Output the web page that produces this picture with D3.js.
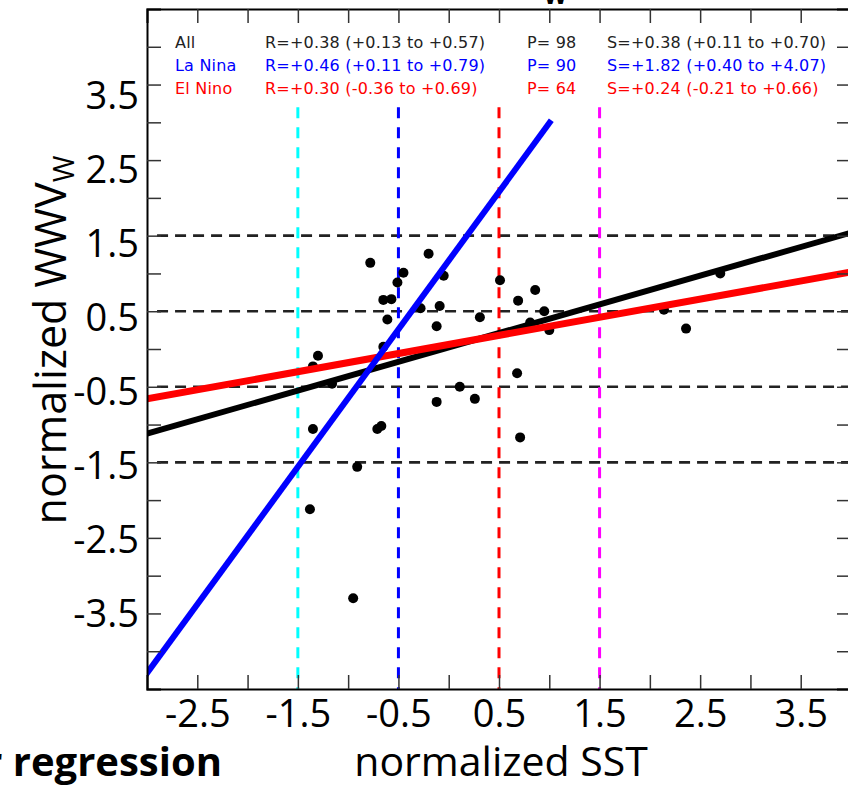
<!DOCTYPE html>
<html>
<head>
<meta charset="utf-8">
<script src="https://cdn.jsdelivr.net/npm/d3@7"></script>
<style>
  body { margin: 0; background: #fff; overflow: hidden; }
  svg { display: block; }
</style>
</head>
<body>
<svg id="chart"></svg>
<script>
var width = 848,
    height = 787;

// scatter points (normalized SST, normalized WWV_W)
const sstValues = [-0.78, -0.20, -0.45, -0.51, -0.05, 0.51, -0.65, -0.57, -0.28, -0.09,
                   -0.61, -0.12, 0.31, -0.65, -1.30, -1.35, -1.16, 0.11, -0.12, 0.26,
                   -1.35, -0.71, -0.67, -0.91, -1.38, -0.95, 0.86, 0.69, 0.95, 0.81,
                   1.00, 2.70, 2.14, 2.36, 0.68, 0.71];
const wwvValues = [1.14, 1.26, 1.01, 0.88, 0.97, 0.91, 0.65, 0.66, 0.54, 0.57,
                   0.39, 0.30, 0.42, 0.03, -0.09, -0.23, -0.46, -0.50, -0.70, -0.66,
                   -1.06, -1.06, -1.02, -1.56, -2.12, -3.30, 0.78, 0.64, 0.50, 0.35,
                   0.25, 1.00, 0.52, 0.27, -0.32, -1.17];

// regression fits
const fitNames = ["All", "El Nino", "La Nina"];
const fitSlopes = [0.38, 0.24, 1.82];
const fitIntercepts = [0.02, 0.06, 1.17];
const fitStart = [-3, -3, -3.3];
const fitEnd = [4, 4, 1.02];

// legend table
const legendNames = ["All", "La Nina", "El Nino"];
const legendR = ["R=+0.38 (+0.13 to +0.57)", "R=+0.46 (+0.11 to +0.79)", "R=+0.30 (-0.36 to +0.69)"];
const legendP = ["P= 98", "P= 90", "P= 64"];
const legendS = ["S=+0.38 (+0.11 to +0.70)", "S=+1.82 (+0.40 to +4.07)", "S=+0.24 (-0.21 to +0.66)"];

// threshold lines
const sstThresholds = [-1.5, -0.5, 0.5, 1.5];
const wwvThresholds = [1.5, 0.5, -0.5, -1.5];

// axis ticks
const xTickValues = [-2.5, -2, -1.5, -1, -0.5, 0, 0.5, 1, 1.5, 2, 2.5, 3, 3.5];
const yTickValues = [-4, -3.5, -3, -2.5, -2, -1.5, -1, -0.5, 0, 0.5, 1, 1.5, 2, 2.5, 3, 3.5, 4];
const xTickLabels = ["-2.5", "-1.5", "-0.5", "0.5", "1.5", "2.5", "3.5"];
const yTickLabels = ["3.5", "2.5", "1.5", "0.5", "-0.5", "-1.5", "-2.5", "-3.5"];

const colors = {
    "All": "#000000",
    "La Nina": "#0000ff",
    "El Nino": "#ff0000"
};
const legendText = {"All": "#222222", "La Nina": "#0000ff", "El Nino": "#ff0000"};
const sstColors = ["#00ffff", "#0000ff", "#ff0000", "#ff00ff"];

var margin = {left: 147, top: 9, right: -3, bottom: 98};
var plotW = width - margin.left - margin.right,
    plotH = height - margin.top - margin.bottom;

var x = d3.scaleLinear().domain([-3, 4]).range([0, plotW]);
var y = d3.scaleLinear().domain([-4.5, 4.5]).range([plotH, 0]);

const svg = d3.select("#chart")
    .attr("width", width)
    .attr("height", height);

const defs = svg.append("defs");
defs.append("clipPath").attr("id", "plotclip")
    .append("rect").attr("width", plotW).attr("height", plotH);
defs.append("clipPath").attr("id", "pageclip")
    .append("rect").attr("width", width).attr("height", height);

const g = svg.append("g").attr("transform", "translate(" + margin.left + "," + margin.top + ")");
const plot = g.append("g").attr("clip-path", "url(#plotclip)");

// horizontal dashed lines
plot.selectAll(".hline")
    .data(wwvThresholds)
    .enter().append("line")
    .attr("class", "hline")
    .attr("x1", x(-2.9)).attr("x2", x(4))
    .attr("y1", d => y(d)).attr("y2", d => y(d))
    .attr("stroke", "#222")
    .attr("stroke-width", 2.6)
    .attr("stroke-dasharray", "11,7");

// vertical dashed lines
plot.selectAll(".vline")
    .data(sstThresholds)
    .enter().append("line")
    .attr("class", "vline")
    .attr("x1", d => x(d)).attr("x2", d => x(d))
    .attr("y1", y(3.2)).attr("y2", y(-4.5))
    .attr("stroke", (d, i) => sstColors[i])
    .attr("stroke-width", 3)
    .attr("stroke-dasharray", "11,9");

// points
plot.selectAll("circle")
    .data(sstValues)
    .enter().append("circle")
    .attr("cx", d => x(d))
    .attr("cy", (d, i) => y(wwvValues[i]))
    .attr("r", 5)
    .attr("fill", "#000");

// regression lines
var line = d3.line().x(d => x(d[0])).y(d => y(d[1]));
fitNames.forEach((name, i) => {
    var pts = [fitStart[i], fitEnd[i]].map(v => [v, fitIntercepts[i] + fitSlopes[i] * v]);
    plot.append("path")
        .attr("d", line(pts))
        .attr("fill", "none")
        .attr("stroke", colors[name])
        .attr("stroke-width", name == "El Nino" ? 7 : 6);
});

// axes with inward ticks
var xAxis = g.append("g").attr("transform", "translate(0," + plotH + ")")
    .call(d3.axisBottom(x).tickValues(xTickValues).tickSize(-14).tickPadding(11)
        .tickFormat(d => xTickLabels.includes(d.toFixed(1)) ? d.toFixed(1) : ""));
var xTop = g.append("g")
    .call(d3.axisTop(x).tickValues(xTickValues).tickSize(-14).tickFormat(""));
var yAxis = g.append("g")
    .call(d3.axisLeft(y).tickValues(yTickValues).tickSize(-14).tickFormat(""));
var yRight = g.append("g").attr("transform", "translate(" + plotW + ",0)")
    .call(d3.axisRight(y).tickValues(yTickValues).tickSize(-14).tickFormat(""));

[xAxis, xTop, yAxis, yRight].forEach(a => {
    a.select(".domain").attr("stroke", "#000").attr("stroke-width", 2);
    a.selectAll(".tick line").attr("stroke", "#333").attr("stroke-width", 1.5);
    // drop the empty labels of the minor ticks
    a.selectAll(".tick text").filter(function () { return this.textContent === ""; }).remove();
});
xAxis.selectAll(".tick text")
    .attr("fill", "#000")
    .style("font-family", "'Open Sans', sans-serif")
    .style("font-size", "38px");

// y labels sit as separate text boxes, slightly tighter than the ticks
var yLabelPos = d3.scaleLinear().domain([3.5, -3.5]).range([95, 613]);
svg.append("g").selectAll("text")
    .data(yTickLabels)
    .enter().append("text")
    .attr("x", 139)
    .attr("y", d => yLabelPos(+d))
    .attr("dy", "0.36em")
    .attr("text-anchor", "end")
    .style("font-family", "'Open Sans', sans-serif")
    .style("font-size", "38px")
    .text(d => d);

// legend
var legend = g.append("g")
    .style("font-family", "'DejaVu Sans', sans-serif")
    .style("font-size", "16px")
    .style("letter-spacing", "0.2px");
legendNames.forEach((name, i) => {
    var ty = 39 + i * 23;
    var row = legend.append("g").attr("fill", legendText[name]);
    row.append("text").attr("x", 175 - margin.left).attr("y", ty).text(name);
    row.append("text").attr("x", 265 - margin.left).attr("y", ty).text(legendR[i]);
    row.append("text").attr("x", 527 - margin.left).attr("y", ty).text(legendP[i]);
    row.append("text").attr("x", 607 - margin.left).attr("y", ty).text(legendS[i]);
});

// axis titles
svg.append("text")
    .attr("x", 501).attr("y", 776)
    .attr("text-anchor", "middle")
    .style("font-family", "'Open Sans', sans-serif")
    .style("font-size", "41px")
    .text("normalized SST");

var ytitle = svg.append("text")
    .attr("transform", "translate(66,340) rotate(-90)")
    .attr("text-anchor", "middle")
    .style("font-family", "'Open Sans', sans-serif")
    .style("font-size", "43px");
ytitle.append("tspan").text("normalized WWV");
ytitle.append("tspan").attr("dy", 8).style("font-size", "29px").text("W");

// clipped slide text
svg.append("text")
    .attr("clip-path", "url(#pageclip)")
    .attr("x", 222).attr("y", 776)
    .attr("text-anchor", "end")
    .style("font-family", "'Open Sans', sans-serif")
    .style("font-weight", "bold")
    .style("font-size", "40px")
    .text("Linear regression");

var title = svg.append("text")
    .attr("x", 567).attr("y", -6)
    .attr("text-anchor", "end")
    .style("font-family", "'Open Sans', sans-serif")
    .style("font-weight", "bold")
    .style("font-size", "34px");
title.append("tspan").text("WWV");
title.append("tspan").attr("dy", 10).style("font-size", "24px").text("W");
</script>
</body>
</html>
